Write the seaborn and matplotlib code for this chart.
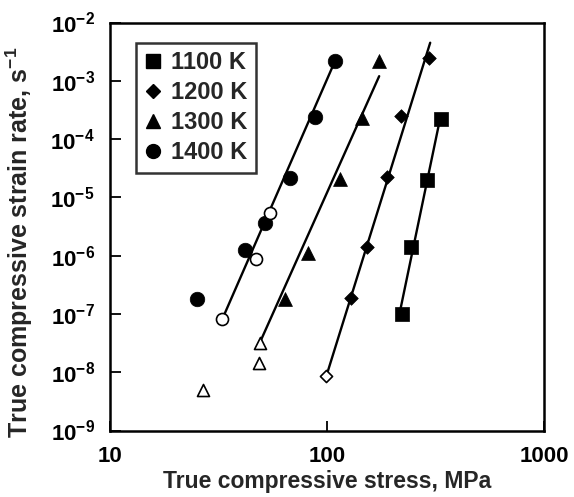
import math
import matplotlib
matplotlib.use("Agg")
import matplotlib.pyplot as plt
from matplotlib.lines import Line2D
from matplotlib.ticker import FixedLocator, NullLocator
import seaborn as sns

# ---- data ----
x_1100 = [222, 245, 290, 337]
y_1100 = [1.0e-7, 1.4e-6, 2.0e-5, 2.2e-4]

x_1200 = [129, 153, 190, 219, 295]
y_1200 = [1.9e-7, 1.4e-6, 2.2e-5, 2.5e-4, 2.5e-3]
x_1200_open = [99]
y_1200_open = [8.5e-9]

x_1300 = [64, 81.5, 115, 144.5, 174]
y_1300 = [1.8e-7, 1.1e-6, 2.1e-5, 2.3e-4, 2.2e-3]
x_1300_open = [26.7, 48.4, 49.3]
y_1300_open = [5.0e-9, 1.43e-8, 3.2e-8]

x_1400 = [25.2, 42, 52, 67.5, 88, 109]
y_1400 = [1.8e-7, 1.25e-6, 3.7e-6, 2.15e-5, 2.4e-4, 2.2e-3]
x_1400_open = [33, 47, 54.5]
y_1400_open = [8.3e-8, 8.9e-7, 5.4e-6]

# fitted lines (end points)
fit_1100_x = [218, 329]
fit_1100_y = [1.2e-7, 1.9e-4]
fit_1200_x = [101, 299]
fit_1200_y = [1.05e-8, 4.5e-3]
fit_1300_x = [47.8, 174]
fit_1300_y = [2.6e-8, 1.2e-3]
fit_1400_x = [33, 109]
fit_1400_y = [8.3e-8, 2.2e-3]

labels = ["1100 K", "1200 K", "1300 K", "1400 K"]
xticks = [10, 100, 1000]
yticks = [1e-9, 1e-8, 1e-7, 1e-6, 1e-5, 1e-4, 1e-3, 1e-2]

# ---- style ----
sns.set_theme(style="white")
plt.rcParams["font.family"] = ["Liberation Sans", "DejaVu Sans"]
plt.rcParams["font.weight"] = "bold"
plt.rcParams["mathtext.fontset"] = "custom"
plt.rcParams["mathtext.rm"] = "Liberation Sans:bold"
plt.rcParams["mathtext.bf"] = "Liberation Sans:bold"
plt.rcParams["mathtext.it"] = "Liberation Sans:bold"
plt.rcParams["mathtext.sf"] = "Liberation Sans:bold"
plt.rcParams["mathtext.default"] = "bf"

fig = plt.figure(figsize=(5.74, 4.97), dpi=100)
ax = fig.add_axes([0.1916, 0.1338, 0.7561, 0.8209])
ax.set_xscale("log")
ax.set_yscale("log")

# fit lines
for fx, fy in [(fit_1100_x, fit_1100_y), (fit_1200_x, fit_1200_y),
               (fit_1300_x, fit_1300_y), (fit_1400_x, fit_1400_y)]:
    sns.lineplot(x=fx, y=fy, ax=ax, color="black", lw=1.7, zorder=2,
                 estimator=None, sort=False)

# filled markers
sns.scatterplot(x=x_1100, y=y_1100, ax=ax, marker="s", s=115, color="black",
                edgecolor="black", linewidth=0.5, zorder=3)
sns.scatterplot(x=x_1200, y=y_1200, ax=ax, marker="D", s=48, color="black",
                edgecolor="black", linewidth=0.5, zorder=3)
sns.scatterplot(x=x_1300, y=y_1300, ax=ax, marker="^", s=100, color="black",
                edgecolor="black", linewidth=0.5, zorder=3)
sns.scatterplot(x=x_1400, y=y_1400, ax=ax, marker="o", s=110, color="black",
                edgecolor="black", linewidth=0.5, zorder=3)

# open markers
sns.scatterplot(x=x_1200_open, y=y_1200_open, ax=ax, marker="D", s=38,
                facecolor="white", edgecolor="black", linewidth=1.2, zorder=4)
sns.scatterplot(x=x_1300_open, y=y_1300_open, ax=ax, marker="^", s=75,
                facecolor="white", edgecolor="black", linewidth=1.2, zorder=4)
sns.scatterplot(x=x_1400_open, y=y_1400_open, ax=ax, marker="o", s=75,
                facecolor="white", edgecolor="black", linewidth=1.2, zorder=4)

ax.set_xlim(10, 1000)
ax.set_ylim(1e-9, 1e-2)

ax.xaxis.set_major_locator(FixedLocator(xticks))
ax.yaxis.set_major_locator(FixedLocator(yticks))
ax.xaxis.set_minor_locator(NullLocator())
ax.yaxis.set_minor_locator(NullLocator())
ax.set_xticklabels([str(t) for t in xticks], fontsize=16, fontweight="bold")
ax.set_yticklabels([r"$10^{%d}$" % round(math.log10(t)) for t in yticks],
                   fontsize=16)

ax.tick_params(axis="x", direction="in", length=7, width=1.3, pad=11, colors="black")
ax.tick_params(axis="y", direction="in", length=8, width=1.3, pad=11, colors="black")
ax.tick_params(top=False, right=False)
ax.xaxis.set_ticks_position("bottom")
ax.yaxis.set_ticks_position("left")

for sp in ax.spines.values():
    sp.set_color("black")
    sp.set_linewidth(1.8)

ax.set_xlabel("True compressive stress, MPa", fontsize=16.5, fontweight="bold",
              labelpad=2)
ax.set_ylabel(r"True compressive strain rate, s$^{-1}$", fontsize=18,
              fontweight="bold")
ax.yaxis.set_label_coords(-0.173, 0.462)

handles = [
    Line2D([], [], marker="s", ls="none", color="black", markersize=10),
    Line2D([], [], marker="D", ls="none", color="black", markersize=7),
    Line2D([], [], marker="^", ls="none", color="black", markersize=10),
    Line2D([], [], marker="o", ls="none", color="black", markersize=10),
]
leg = ax.legend(handles, labels, loc="upper left", bbox_to_anchor=(0.06, 0.95),
                borderaxespad=0, frameon=True, fancybox=False,
                prop={"family": "Liberation Sans", "weight": "bold", "size": 17},
                handlelength=0.7, handletextpad=0.45, labelspacing=0.3,
                borderpad=0.35)
leg.get_frame().set_edgecolor("black")
leg.get_frame().set_linewidth(1.8)

fig.savefig("out.png", dpi=100)
